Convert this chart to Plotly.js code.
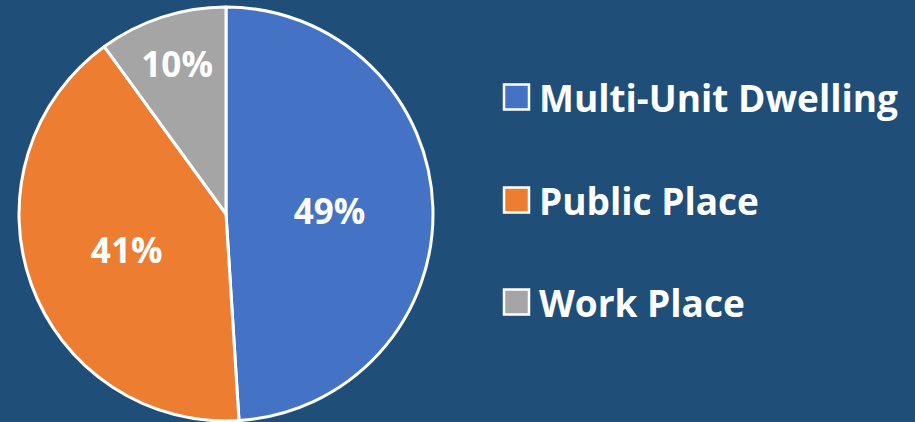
<!DOCTYPE html>
<html>
<head>
<meta charset="utf-8">
<script src="https://cdn.plot.ly/plotly-3.0.1.min.js"></script>
<style>html,body{margin:0;padding:0;background:#1F4E79;}#chart{width:915px;height:422px;}</style>
</head>
<body>
<div id="chart"></div>
<script>
const categories = ["Multi-Unit Dwelling", "Public Place", "Work Place"];
const values = [49, 41, 10];
const colors = ["#4472C4", "#ED7D31", "#A5A5A5"];

const FONT = "'Open Sans', Lato, sans-serif";

const trace = {
  type: "pie",
  labels: categories,
  values: values,
  sort: false,
  direction: "clockwise",
  rotation: 0,
  marker: { colors: colors, line: { color: "#FFFFFF", width: 3 } },
  textinfo: "percent",
  texttemplate: "%{percent:.0%}",
  textposition: "inside",
  insidetextorientation: "horizontal",
  textfont: { family: FONT, size: 35, color: "#FFFFFF", weight: "bold" },
  hoverinfo: "label+percent",
  showlegend: false,
  domain: { x: [19/915, 433/915], y: [1/422, 415/422] }
};

// Legend built from the category and colour arrays
const legendY = [97, 200, 302];
const shapes = [];
const annotations = [];
categories.forEach((c, i) => {
  const yc = 1 - legendY[i] / 422;
  const half = 12.5 / 422;
  shapes.push({
    type: "rect", xref: "paper", yref: "paper",
    x0: 504/915, x1: 529/915, y0: yc - half, y1: yc + half,
    fillcolor: colors[i], line: { color: "#FFFFFF", width: 2.5 }
  });
  annotations.push({
    xref: "paper", yref: "paper", x: 537/915, y: yc,
    xanchor: "left", yanchor: "middle", showarrow: false,
    text: "<b>" + c + "</b>",
    font: { family: FONT, size: 37, color: "#FFFFFF" }
  });
});

const layout = {
  width: 915, height: 422,
  margin: { l: 0, r: 0, t: 0, b: 0 },
  paper_bgcolor: "#1F4E79",
  plot_bgcolor: "#1F4E79",
  showlegend: false,
  shapes: shapes,
  annotations: annotations
};

Plotly.newPlot("chart", [trace], layout, { displayModeBar: false, staticPlot: true });
</script>
</body>
</html>
